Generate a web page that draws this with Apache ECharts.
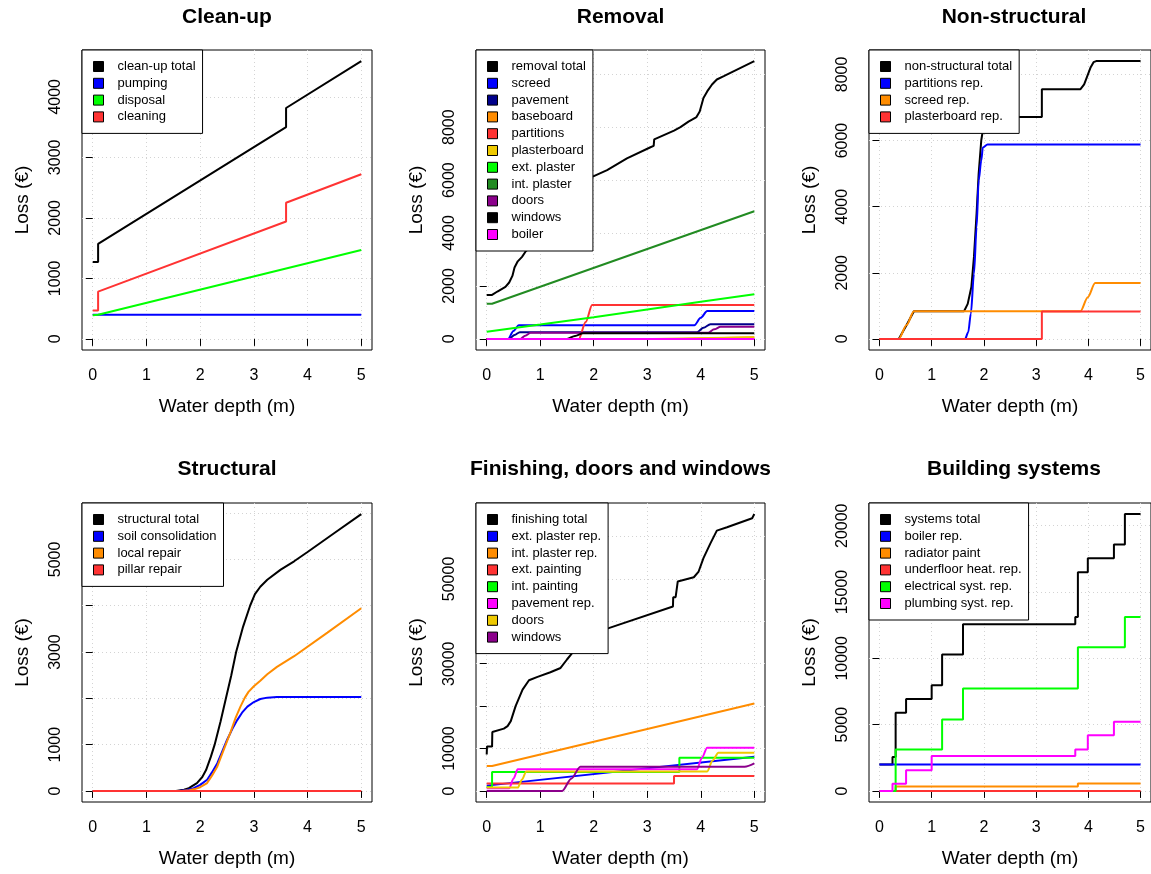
<!DOCTYPE html>
<html><head><meta charset="utf-8">
<script src="https://cdn.jsdelivr.net/npm/echarts@6/dist/echarts.min.js"></script>
<style>html,body{margin:0;padding:0;background:#fff}#c{width:1151px;height:874px}</style>
</head><body><div id="c"></div>
<script>
// ---------- tick labels ----------
const xTicks = [0, 1, 2, 3, 4, 5];
const yTicksCleanup = [0, 1000, 2000, 3000, 4000];
const yLabelsCleanup = [0, 1000, 2000, 3000, 4000];
const yTicksRemoval = [0, 2000, 4000, 6000, 8000, 10000];
const yLabelsRemoval = [0, 2000, 4000, 6000, 8000];
const yTicksNonStruct = [0, 2000, 4000, 6000, 8000];
const yLabelsNonStruct = [0, 2000, 4000, 6000, 8000];
const yTicksStruct = [0, 1000, 2000, 3000, 4000, 5000, 6000];
const yLabelsStruct = [0, 1000, 3000, 5000];
const yTicksFinishing = [0, 10000, 20000, 30000, 40000, 50000, 60000];
const yLabelsFinishing = [0, 10000, 30000, 50000];
const yTicksSystems = [0, 5000, 10000, 15000, 20000];
const yLabelsSystems = [0, 5000, 10000, 15000, 20000];

// ---------- Clean-up ----------
const cleanupTotal = [[0,1270],[0.1,1270],[0.1,1570],[3.6,3500],[3.6,3815],[5,4590]];
const pumping = [[0,400],[5,400]];
const disposal = [[0,390],[0.1,400],[5,1470]];
const cleaning = [[0,470],[0.1,470],[0.1,780],[3.6,1940],[3.6,2250],[5,2720]];

// ---------- Removal ----------
const removalTotal = [[0,1660],[0.1,1660],[0.2,1790],[0.35,1965],[0.42,2130],[0.48,2380],[0.52,2700],[0.58,2930],[0.66,3100],[0.73,3310],[1.0,3800],[1.5,4350],[1.7,4700],[1.85,5500],[1.97,6120],[2.25,6375],[2.62,6820],[3.06,7240],[3.12,7290],[3.13,7540],[3.5,7870],[3.62,8000],[3.77,8210],[3.92,8380],[3.98,8590],[4.05,9100],[4.12,9350],[4.21,9610],[4.3,9800],[4.43,9925],[5,10495]];
const screed = [[0,0],[0.4,0],[0.5,300],[0.6,520],[3.88,520],[4.0,800],[4.12,1050],[5,1050]];
const pavement = [[0,0],[0.42,0],[0.52,150],[0.62,255],[3.93,255],[4.05,420],[4.18,550],[5,550]];
const baseboard = [[0,0],[3.67,0],[3.67,65],[5,65]];
const partitions = [[0,0],[1.72,0],[1.85,640],[1.97,1280],[5,1280]];
const plasterboard = [[0,0],[3.1,0],[3.1,65],[5,65]];
const extPlaster = [[0,270],[1,540],[2,820],[3,1110],[4,1400],[5,1690]];
const intPlaster = [[0,1330],[0.1,1330],[5,4820]];
const doorsRem = [[0,0],[0.63,0],[0.72,120],[0.82,230],[4.14,230],[4.25,360],[4.37,460],[5,460]];
const windowsRem = [[0,0],[1.5,0],[1.65,110],[1.8,210],[5,210]];
const boiler = [[0,0],[5,0]];

// ---------- Non-structural ----------
const nonStructTotal = [[0,0],[0.37,0],[0.52,420],[0.66,838],[1.62,838],[1.69,1060],[1.76,1570],[1.81,2480],[1.86,3790],[1.9,5000],[1.95,6010],[2.0,6500],[2.07,6716],[3.11,6716],[3.11,7555],[3.85,7555],[3.92,7700],[3.98,7950],[4.04,8200],[4.1,8370],[4.15,8403],[5,8403]];
const partitionsRep = [[0,0],[1.64,0],[1.7,200],[1.75,760],[1.81,1970],[1.86,3380],[1.9,4800],[1.95,5400],[1.98,5790],[2.07,5878],[5,5878]];
const screedRep = [[0,0],[0.37,0],[0.52,420],[0.66,838],[3.85,838],[3.99,1260],[4.13,1687],[5,1687]];
const plasterboardRep = [[0,0],[3.11,0],[3.11,828],[5,828]];

// ---------- Structural ----------
const structTotal = [[0,0],[1.55,0],[1.7,25],[1.79,60],[1.94,170],[2.04,300],[2.11,450],[2.2,740],[2.27,1000],[2.38,1500],[2.48,2000],[2.58,2500],[2.67,3000],[2.8,3550],[2.93,4000],[3.02,4250],[3.12,4410],[3.25,4560],[3.5,4780],[3.75,4960],[4.0,5160],[4.5,5570],[5,5980]];
const soilConsolidation = [[0,0],[1.6,0],[1.75,20],[1.88,58],[2.0,130],[2.13,240],[2.22,400],[2.32,600],[2.41,850],[2.5,1100],[2.6,1340],[2.69,1530],[2.78,1690],[2.88,1820],[3.0,1920],[3.12,1985],[3.25,2015],[3.43,2030],[5,2030]];
const localRepair = [[0,0],[1.65,0],[1.8,15],[1.9,40],[2.0,80],[2.13,170],[2.22,330],[2.32,530],[2.44,890],[2.57,1280],[2.66,1580],[2.75,1820],[2.83,2010],[2.9,2140],[3.0,2260],[3.12,2380],[3.25,2520],[3.43,2680],[3.75,2910],[4.37,3420],[5,3946]];
const pillarRepair = [[0,0],[5,0]];

// ---------- Finishing, doors and windows ----------
const finishingTotal = [[0,8600],[0.005,10450],[0.1,10450],[0.105,13900],[0.32,14700],[0.39,15290],[0.45,16460],[0.54,20000],[0.67,23900],[0.79,26100],[0.95,26900],[1.19,28000],[1.38,29000],[1.5,31000],[1.6,32540],[1.75,36500],[2.28,38400],[3.48,43500],[3.485,45700],[3.53,45700],[3.57,49400],[3.87,50400],[3.96,51750],[4.05,54900],[4.18,58400],[4.3,61400],[4.49,62200],[4.96,64300],[5,65300]];
const extPlasterRep = [[0,1250],[5,8050]];
const intPlasterRep = [[0,5900],[0.1,5900],[5,20600]];
const extPainting = [[0,1750],[3.5,1750],[3.5,3550],[5,3550]];
const intPainting = [[0,940],[0.1,940],[0.1,4470],[3.6,4470],[3.6,7850],[5,7850]];
const pavementRep = [[0,630],[0.42,630],[0.5,2900],[0.58,5100],[3.93,5100],[4.02,7800],[4.12,10200],[5,10200]];
const doorsFin = [[0,780],[0.58,780],[0.66,2700],[0.74,4600],[4.12,4600],[4.22,7200],[4.33,9030],[5,9030]];
const windowsFin = [[0,0],[1.41,0],[1.58,2900],[1.75,5730],[4.82,5730],[5,6510]];

// ---------- Building systems (step breakpoints) ----------
const systemsTotal = [[0,2000],[0.25,2560],[0.31,5890],[0.51,6940],[1.0,7970],[1.2,10280],[1.6,12580],[3.75,13110],[3.8,16490],[3.99,17540],[4.49,18590],[4.7,20880],[5,20880]];
const boilerRep = [[0,2000],[5,2000]];
const radiatorPaint = [[0,0],[0.31,330],[3.8,560],[5,560]];
const underfloorRep = [[0,0],[5,0]];
const electricalRep = [[0,0],[0.31,3130],[1.2,5390],[1.6,7720],[3.8,10830],[4.7,13110],[5,13110]];
const plumbingRep = [[0,0],[0.25,550],[0.51,1550],[1.0,2630],[3.75,3130],[3.99,4190],[4.49,5210],[5,5210]];

// ---------- styling / layout ----------
const FONT = 'Liberation Sans, Arial, sans-serif';
const C = {black:'#000000', blue:'#0000FF', green:'#00FF00', red:'#FF3333', orange:'#FF8C00',
  navy:'#00008B', gold:'#EEC900', dgreen:'#228B22', purple:'#8B008B', magenta:'#FF00FF'};

const panels = [
  {title:'Clean-up', grid:{left:82, top:50, width:290, height:300}, titleTop:7,
   yTicks:yTicksCleanup, yLabels:yLabelsCleanup,
   series:[['clean-up total',cleanupTotal,C.black],['pumping',pumping,C.blue],['disposal',disposal,C.green],['cleaning',cleaning,C.red]]},
  {title:'Removal', grid:{left:476, top:50, width:289, height:300}, titleTop:7,
   yTicks:yTicksRemoval, yLabels:yLabelsRemoval,
   series:[['removal total',removalTotal,C.black],['screed',screed,C.blue,0.3],['pavement',pavement,C.navy,0.3],
     ['baseboard',baseboard,C.orange],['partitions',partitions,C.red,0.3],['plasterboard',plasterboard,C.gold],
     ['ext. plaster',extPlaster,C.green],['int. plaster',intPlaster,C.dgreen],['doors',doorsRem,C.purple,0.3],
     ['windows',windowsRem,C.black,0.3],['boiler',boiler,C.magenta]]},
  {title:'Non-structural', grid:{left:869, top:50, width:290, height:300}, titleTop:7,
   yTicks:yTicksNonStruct, yLabels:yLabelsNonStruct,
   series:[['non-structural total',nonStructTotal,C.black],['partitions rep.',partitionsRep,C.blue,0.3],
     ['screed rep.',screedRep,C.orange,0.3],['plasterboard rep.',plasterboardRep,C.red]]},
  {title:'Structural', grid:{left:82, top:503, width:290, height:299}, titleTop:459,
   yTicks:yTicksStruct, yLabels:yLabelsStruct,
   series:[['structural total',structTotal,C.black],['soil consolidation',soilConsolidation,C.blue],
     ['local repair',localRepair,C.orange],['pillar repair',pillarRepair,C.red]]},
  {title:'Finishing, doors and windows', grid:{left:476, top:503, width:289, height:299}, titleTop:459,
   yTicks:yTicksFinishing, yLabels:yLabelsFinishing,
   series:[['finishing total',finishingTotal,C.black],['ext. plaster rep.',extPlasterRep,C.blue],
     ['int. plaster rep.',intPlasterRep,C.orange],['ext. painting',extPainting,C.red],['int. painting',intPainting,C.green],
     ['pavement rep.',pavementRep,C.magenta,0.3],['doors',doorsFin,C.gold,0.3],['windows',windowsFin,C.purple,0.3]]},
  {title:'Building systems', grid:{left:869, top:503, width:290, height:299}, titleTop:459, step:true,
   yTicks:yTicksSystems, yLabels:yLabelsSystems,
   series:[['systems total',systemsTotal,C.black],['boiler rep.',boilerRep,C.blue],['radiator paint',radiatorPaint,C.orange],
     ['underfloor heat. rep.',underfloorRep,C.red],['electrical syst. rep.',electricalRep,C.green],['plumbing syst. rep.',plumbingRep,C.magenta]]}
];

const option = {animation:false, backgroundColor:'#fff', title:[], grid:[], xAxis:[], yAxis:[], legend:[], series:[]};

panels.forEach((p, i) => {
  let ymax = 0;
  p.series.forEach(s => s[1].forEach(pt => { if (pt[1] > ymax) ymax = pt[1]; }));
  const ext = ymax * 0.04;
  option.grid.push(Object.assign({show:true, borderColor:'#000', borderWidth:1, backgroundColor:'transparent', containLabel:false}, p.grid));
  option.title.push({text:p.title, left:p.grid.left + p.grid.width/2, top:p.titleTop, textAlign:'center', padding:0,
    textStyle:{fontFamily:FONT, fontSize:21, fontWeight:'bold', color:'#000'}});
  option.xAxis.push({type:'value', gridIndex:i, min:-0.2, max:5.2,
    axisLine:{show:false},
    axisTick:{show:true, customValues:xTicks, length:7, lineStyle:{color:'#000', width:1}},
    axisLabel:{customValues:xTicks, margin:18, fontFamily:FONT, fontSize:16, color:'#000', formatter: v => String(v)},
    splitLine:{show:true, lineStyle:{color:'#D3D3D3', type:[1,3], width:1}},
    name:'Water depth (m)', nameLocation:'middle', nameGap:47,
    nameTextStyle:{fontFamily:FONT, fontSize:19, color:'#000'}});
  option.yAxis.push({type:'value', gridIndex:i, min:-ext, max:ymax + ext,
    axisLine:{show:false},
    axisTick:{show:true, customValues:p.yTicks, length:7, lineStyle:{color:'#000', width:1}},
    axisLabel:{customValues:p.yLabels, rotate:90, margin:18, fontFamily:FONT, fontSize:16, color:'#000', formatter: v => String(v)},
    splitLine:{show:true, lineStyle:{color:'#D3D3D3', type:[1,3], width:1}},
    name:'Loss (€)', nameLocation:'middle', nameGap:50, nameRotate:90,
    nameTextStyle:{fontFamily:FONT, fontSize:19, color:'#000'}});
  option.legend.push({left:p.grid.left, top:p.grid.top, orient:'vertical', selectedMode:false,
    itemWidth:10, itemHeight:10, itemGap:2.8, padding:[9.5,7,9.5,11],
    backgroundColor:'#fff', borderColor:'#000', borderWidth:1, icon:'rect',
    formatter: n => n.split('|')[1],
    textStyle:{fontFamily:FONT, fontSize:13, color:'#000', lineHeight:14, padding:[0,0,0,9]},
    data:p.series.map(s => ({name:i + '|' + s[0], icon:'rect', itemStyle:{color:s[2], borderColor:'#000', borderWidth:1}}))});
  p.series.forEach(s => {
    const ser = {type:'line', name:i + '|' + s[0], xAxisIndex:i, yAxisIndex:i, data:s[1],
      showSymbol:false, symbol:'none', clip:true, color:s[2],
      lineStyle:{color:s[2], width:2}, itemStyle:{color:s[2]}, emphasis:{disabled:true}};
    if (s[3]) { ser.smooth = s[3]; ser.smoothMonotone = 'x'; }
    if (p.step) ser.step = 'end';
    option.series.push(ser);
  });
});

const chart = echarts.init(document.getElementById('c'), null, {renderer:'canvas'});
chart.setOption(option);
</script></body></html>
